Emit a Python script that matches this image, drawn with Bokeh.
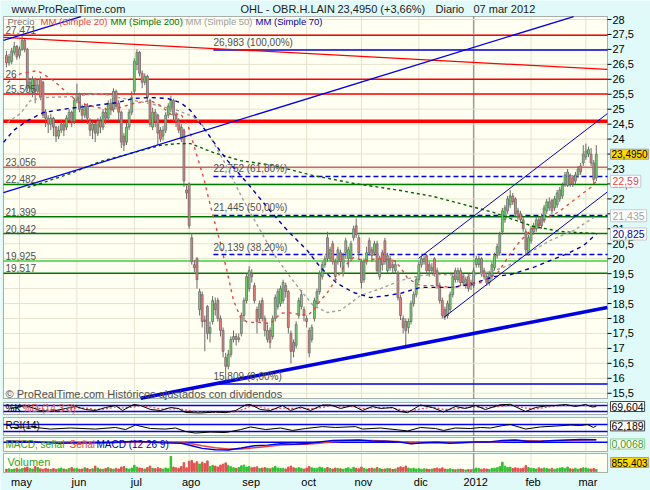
from bokeh.plotting import figure
from bokeh.models import Range1d, Label, BoxAnnotation, ColumnDataSource
from bokeh.core.properties import value
from bokeh.embed import file_html
from bokeh.resources import INLINE

# ---------------- data ----------------
day_idx = list(range(-5, 222))
opens = [26.80, 26.55, 26.60, 26.90, 27.10, 26.80, 27.00, 27.30,
         27.00, 25.70, 25.60, 26.00, 25.60, 26.00, 25.90, 24.90, 24.70, 24.50,
         24.70, 24.40, 24.10, 24.30, 24.50, 24.40, 24.70, 24.90, 24.60, 25.30,
         25.50, 25.00, 24.80, 25.10, 24.60, 24.30, 24.50, 24.20, 24.60, 24.40,
         24.90, 24.70, 25.20, 25.00, 25.60, 25.20, 24.90, 24.10, 23.90, 24.40,
         24.90, 25.60, 26.50, 26.90, 26.20, 25.90, 26.10, 25.30, 24.40, 24.90,
         24.80, 24.30, 24.10, 24.30, 24.80, 25.00, 25.30, 24.80, 24.60, 24.40,
         24.30, 22.30, 22.50, 20.70, 19.80, 20.00, 18.30, 18.80, 17.95, 18.40,
         17.50, 17.90, 18.50, 18.60, 18.00, 17.60, 16.70, 16.40, 16.80, 17.30,
         17.40, 17.30, 17.50, 18.10, 18.60, 19.00, 19.50, 19.10, 18.30, 18.00,
         18.60, 18.00, 17.30, 17.60, 17.40, 18.00, 18.40, 18.50, 18.60, 19.10,
         18.90, 17.50, 17.20, 17.10, 18.10, 18.40, 18.30, 18.00, 17.60, 17.30,
         18.00, 18.50, 18.90, 19.40, 19.80, 20.70, 20.00, 20.50, 19.90, 19.90,
         20.20, 19.50, 20.20, 20.00, 20.00, 20.70, 21.10, 20.70, 19.90, 19.30,
         19.90, 20.60, 20.30, 20.20, 20.50, 19.40, 20.20, 20.60, 19.60, 20.00,
         19.80, 19.60, 19.50, 18.70, 18.00, 17.90, 17.70, 17.90, 18.50, 18.80,
         19.30, 19.80, 19.90, 20.10, 19.80, 19.60, 20.00, 19.60, 19.10, 18.60,
         18.30, 18.10, 18.30, 18.80, 19.60, 19.30, 19.60, 19.40, 19.10, 19.40,
         19.20, 19.10, 19.80, 19.80, 20.00, 19.60, 19.40, 19.20, 19.40, 19.70,
         20.10, 20.20, 20.90, 21.30, 21.60, 21.80, 22.10, 22.00, 21.60, 21.50,
         21.30, 20.90, 20.20, 20.60, 20.90, 21.00, 21.30, 21.40, 21.30, 21.60,
         21.70, 21.95, 21.70, 21.80, 22.00, 22.10, 22.50, 22.45, 22.80, 22.70,
         22.60, 22.80, 23.10, 23.20, 23.40, 23.50, 23.50, 23.20, 22.70]
closes = [26.55, 26.75, 26.95, 27.10, 26.75, 27.00, 27.30, 27.00,
          25.70, 25.90, 26.00, 25.60, 25.80, 25.40, 24.80, 24.70, 24.50, 24.70,
          24.40, 24.10, 24.30, 24.50, 24.30, 24.70, 24.90, 24.60, 25.30, 25.50,
          25.00, 24.80, 25.10, 24.70, 24.30, 24.50, 24.20, 24.60, 24.40, 24.90,
          24.70, 25.20, 25.00, 25.60, 25.10, 24.90, 23.90, 23.80, 24.40, 24.90,
          25.40, 26.60, 26.90, 26.20, 25.90, 26.10, 25.40, 24.50, 24.90, 24.60,
          24.20, 24.00, 24.30, 24.80, 25.10, 25.30, 24.80, 24.60, 24.30, 24.00,
          22.60, 22.20, 21.10, 19.90, 19.70, 19.30, 18.90, 17.90, 17.90, 17.50,
          17.70, 18.60, 18.30, 18.00, 17.60, 16.90, 16.40, 16.80, 17.30, 17.40,
          17.30, 17.35, 18.10, 18.60, 19.40, 19.60, 19.40, 18.60, 17.90, 18.50,
          18.00, 17.60, 17.60, 17.20, 18.00, 18.70, 18.90, 19.00, 19.20, 18.90,
          17.70, 16.90, 16.90, 17.80, 18.60, 18.80, 18.10, 17.90, 16.85, 17.70,
          18.60, 18.90, 19.50, 19.80, 20.00, 20.00, 20.30, 19.90, 19.40, 20.30,
          19.90, 20.10, 20.60, 20.30, 20.50, 21.00, 20.80, 20.20, 19.20, 19.90,
          20.20, 20.20, 20.10, 20.50, 19.60, 20.00, 19.80, 19.90, 20.10, 19.70,
          19.70, 19.80, 18.70, 18.10, 17.70, 17.60, 17.90, 18.50, 18.80, 19.30,
          19.80, 20.00, 20.00, 19.60, 19.60, 19.70, 19.50, 19.10, 18.60, 18.10,
          18.05, 18.50, 18.80, 19.40, 19.30, 19.60, 19.20, 19.20, 19.30, 19.00,
          19.10, 19.60, 20.00, 20.00, 19.50, 19.40, 19.20, 19.50, 19.80, 20.10,
          20.40, 20.80, 21.60, 21.70, 22.00, 22.10, 21.90, 21.50, 21.40, 21.30,
          21.00, 20.30, 20.70, 21.00, 21.10, 21.30, 21.10, 21.10, 21.70, 21.90,
          21.90, 21.60, 22.00, 22.20, 22.30, 22.45, 22.80, 22.90, 22.50, 22.50,
          22.80, 23.00, 22.90, 23.50, 23.60, 23.65, 23.20, 22.65, 23.495]
highs = [26.95, 26.85, 27.05, 27.25, 27.15, 27.10, 27.47, 27.35,
         27.05, 26.05, 26.10, 26.05, 26.00, 26.10, 25.95, 25.00, 24.80, 24.85,
         24.75, 24.45, 24.45, 24.65, 24.60, 24.80, 25.00, 24.95, 25.35, 25.85,
         25.55, 25.15, 25.20, 25.20, 24.70, 24.60, 24.55, 24.70, 24.75, 25.00,
         25.05, 25.30, 25.35, 25.70, 25.65, 25.30, 24.95, 24.20, 24.55, 25.00,
         25.60, 26.70, 27.00, 26.95, 26.30, 26.20, 26.15, 25.35, 25.05, 25.00,
         24.85, 24.40, 24.45, 24.90, 25.20, 25.45, 25.35, 24.90, 24.70, 24.50,
         24.35, 22.45, 22.55, 20.85, 19.95, 20.05, 19.00, 18.90, 18.10, 18.45,
         17.90, 18.75, 18.70, 18.70, 18.10, 17.70, 16.85, 16.95, 17.40, 17.60,
         17.50, 17.50, 18.20, 18.70, 19.50, 19.75, 19.65, 19.20, 18.40, 18.60,
         18.70, 18.10, 17.80, 17.70, 18.10, 18.80, 19.00, 19.10, 19.30, 19.20,
         18.95, 17.60, 17.30, 17.90, 18.70, 18.95, 18.40, 18.10, 17.70, 17.80,
         18.70, 19.00, 19.60, 19.90, 20.10, 20.90, 20.40, 20.60, 20.00, 20.40,
         20.30, 20.20, 20.70, 20.40, 20.60, 21.10, 21.35, 20.80, 20.00, 20.00,
         20.40, 20.70, 20.40, 20.60, 20.60, 20.10, 20.30, 20.70, 20.20, 20.10,
         19.90, 19.95, 19.60, 18.80, 18.10, 18.00, 18.00, 18.60, 18.90, 19.40,
         19.90, 20.10, 20.10, 20.15, 19.90, 19.85, 20.05, 19.70, 19.20, 18.70,
         18.40, 18.60, 18.90, 19.50, 19.70, 19.70, 19.70, 19.50, 19.40, 19.50,
         19.30, 19.70, 20.10, 20.10, 20.05, 19.70, 19.50, 19.60, 19.90, 20.20,
         20.50, 20.90, 21.70, 21.80, 22.10, 22.30, 22.20, 22.05, 21.70, 21.60,
         21.40, 21.00, 20.80, 21.10, 21.20, 21.40, 21.40, 21.50, 21.80, 22.00,
         22.05, 22.00, 22.10, 22.30, 22.40, 22.55, 22.90, 23.00, 22.85, 22.80,
         22.90, 23.10, 23.20, 23.80, 23.85, 23.75, 23.70, 23.30, 23.80]
lows = [26.40, 26.45, 26.50, 26.80, 26.65, 26.70, 26.95, 26.90,
        25.60, 25.50, 25.40, 25.20, 25.50, 25.30, 24.70, 24.40, 24.20, 24.30,
        24.10, 23.90, 24.00, 24.20, 24.10, 24.30, 24.60, 24.40, 24.50, 25.20,
        24.90, 24.60, 24.70, 24.50, 24.10, 24.00, 23.90, 24.10, 24.20, 24.30,
        24.50, 24.60, 24.80, 24.90, 25.00, 24.60, 23.70, 23.60, 23.80, 24.30,
        24.80, 25.50, 26.30, 26.10, 25.70, 25.80, 25.30, 24.40, 24.30, 24.40,
        23.80, 23.90, 23.95, 24.20, 24.70, 24.90, 24.60, 24.40, 24.20, 23.90,
        22.40, 22.00, 21.00, 19.80, 19.55, 19.00, 18.10, 17.70, 16.90, 17.30,
        17.20, 17.80, 18.10, 17.90, 17.40, 16.70, 15.81, 16.30, 16.70, 17.20,
        17.10, 17.20, 17.40, 17.90, 18.50, 18.90, 19.20, 18.50, 17.50, 17.90,
        17.90, 17.40, 17.20, 17.00, 17.30, 17.90, 18.30, 18.40, 18.50, 18.70,
        17.50, 16.50, 16.70, 17.00, 18.00, 18.30, 17.90, 17.70, 16.70, 17.20,
        17.90, 18.40, 18.80, 19.30, 19.70, 19.90, 19.90, 19.80, 19.20, 19.80,
        19.70, 19.40, 20.00, 19.70, 19.90, 20.60, 20.70, 20.00, 19.00, 19.20,
        19.80, 20.10, 19.90, 20.10, 19.50, 19.30, 19.60, 19.80, 19.50, 19.60,
        19.50, 19.50, 18.60, 17.95, 17.50, 17.10, 17.50, 17.80, 18.40, 18.70,
        19.20, 19.70, 19.80, 19.50, 19.40, 19.50, 19.40, 19.00, 18.50, 18.00,
        17.95, 18.00, 18.20, 18.70, 19.20, 19.20, 19.10, 19.10, 19.00, 18.90,
        18.95, 19.00, 19.70, 19.70, 19.40, 19.30, 19.10, 19.10, 19.30, 19.60,
        20.00, 20.10, 20.80, 21.20, 21.50, 21.70, 21.80, 21.40, 21.30, 21.20,
        20.90, 20.10, 20.10, 20.50, 20.80, 20.90, 21.00, 21.00, 21.20, 21.50,
        21.60, 21.50, 21.60, 21.70, 21.90, 22.00, 22.40, 22.40, 22.40, 22.40,
        22.50, 22.70, 22.80, 23.10, 23.30, 23.40, 23.10, 22.50, 22.60]
volumes_m = [0.9, 1.1, 0.8, 1.0, 1.3, 0.9, 1.2, 1.5, 1.8, 1.2, 1.0, 2.0, 1.6, 1.1, 0.9, 1.3,
             1.0, 0.8, 1.2, 0.9, 1.1, 1.4, 1.0, 0.8, 1.2, 1.6, 1.1,
             1.3, 0.9, 1.0, 1.5, 1.2, 0.8, 1.1, 2.2, 1.4, 1.0, 0.9, 1.2, 1.6, 1.1, 0.9, 1.3,
             1.0, 1.8, 2.0, 1.2, 1.0, 1.4,
             2.5, 1.8, 1.4, 1.2, 1.0, 1.6, 2.2, 1.3, 1.1, 1.5, 1.2, 1.0, 1.4, 1.1, 6.1, 1.8,
             1.5, 1.3, 2.0, 3.6, 1.5,
             4.2, 4.5, 3.4, 4.0, 3.0, 3.8, 3.2, 4.3, 2.0, 2.5, 2.2, 1.8, 2.6, 3.0, 3.5, 2.4,
             1.9, 1.5, 1.3, 1.6, 2.3, 2.6, 1.8,
             2.0, 1.5, 1.7, 1.9, 1.2, 1.4, 1.6, 1.3, 1.1, 1.5, 2.1, 1.4, 1.2, 1.3, 1.0, 1.8,
             2.2, 1.5, 1.3, 1.6, 1.2, 1.0,
             1.4, 2.0, 1.5, 1.2, 1.3, 1.8, 1.5, 1.1, 1.6, 1.2, 1.0, 1.4, 1.3, 1.1, 0.9, 1.2,
             1.5, 1.0, 1.7, 1.3, 1.1,
             1.8, 1.3, 1.0, 1.2, 1.4, 1.1, 1.6, 1.2, 0.9, 1.0, 1.3, 1.1, 0.8, 1.0, 1.5, 1.9,
             1.6, 2.2, 1.4, 1.1, 1.3, 1.0,
             1.2, 0.9, 1.1, 1.0, 0.8, 1.0, 1.2, 1.4, 1.1, 1.5, 1.0, 0.9, 1.1, 0.8, 0.7, 0.9,
             1.0, 0.8, 0.6, 0.8, 0.7,
             1.0, 1.4, 1.2, 0.9, 1.1, 1.0, 0.8, 1.2, 1.3, 1.5, 2.0, 3.8, 2.2, 1.6, 1.8, 1.2,
             1.5, 1.3, 1.1, 1.4, 2.4, 1.6,
             1.3, 1.2, 1.0, 1.5, 1.1, 1.4, 1.2, 1.0, 1.3, 0.9, 1.1, 1.4, 1.6, 1.2, 1.8, 1.1,
             1.0, 1.3, 0.9, 1.2, 1.5,
             1.4, 1.1, 1.0, 1.2, 0.855403]

month_idx = [0, 22, 44, 65, 88, 110, 131, 153, 174, 196, 217]
month_lbl = ["may", "jun", "jul", "ago", "sep", "oct", "nov", "dic", "2012", "feb", "mar"]
year_start = 174
price_ticks = [15.5, 16, 16.5, 17, 17.5, 18, 18.5, 19, 19.5, 20, 20.5, 21, 21.5, 22,
               22.5, 23, 23.5, 24, 24.5, 25, 25.5, 26, 26.5, 27, 27.5, 28]
price_tick_lbl = ["15,5", "16", "16,5", "17", "17,5", "18", "18,5", "19", "19,5", "20",
                  "20,5", "21", "21,5", "22", "22,5", "23", "23,5", "24", "24,5", "25",
                  "25,5", "26", "26,5", "27", "27,5", "28"]

ma20_i = [-4.6, 0.4, 6.9, 13.0, 18.4, 23.4, 34.9, 38.7, 43.7, 50.2, 54.0, 58.6, 61.7, 64.8,
          68.2, 70.5, 72.0, 74.3, 77.0, 79.7, 82.0, 84.7, 87.4, 92.3, 96.2, 100.0, 102.7,
          110.3, 112.6, 115.3, 118.0, 121.8, 124.1, 128.0, 131.8, 138.3, 143.3, 146.0, 148.7,
          153.6, 158.6, 166.3, 171.6, 176.6, 183.1, 188.1, 192.0, 195.8, 200.8, 207.3, 213.8,
          218.8, 221.0]
ma20_v = [25.89, 26.19, 26.29, 25.96, 25.53, 25.19, 24.96, 25.06, 25.19, 25.29, 25.12, 24.79,
          24.86, 24.39, 23.38, 22.72, 22.18, 21.38, 20.51, 19.51, 18.60, 18.03, 17.87, 17.87,
          17.83, 18.17, 18.20, 18.10, 18.27, 18.60, 18.87, 19.37, 19.71, 20.04, 19.94, 20.01,
          19.94, 19.71, 19.34, 19.10, 19.10, 19.04, 19.17, 19.20, 19.51, 20.17, 20.61, 20.94,
          21.28, 21.61, 22.05, 22.38, 22.59]
ma50_i = [-4.6, 0.4, 4.2, 9.2, 19.5, 31.0, 36.0, 42.5, 51.3, 60.5, 66.3, 69.3, 73.2, 78.2,
          85.8, 92.3, 97.3, 102.7, 107.7, 112.6, 118.0, 123.0, 130.7, 138.3, 146.0, 153.6,
          161.3, 171.6, 177.8, 184.3, 188.1, 194.6, 203.4, 212.3, 221.0]
ma50_v = [24.56, 24.86, 25.29, 25.39, 25.42, 25.53, 25.42, 25.32, 25.16, 24.96, 24.76, 24.56,
          24.06, 23.28, 21.95, 20.94, 20.17, 19.51, 18.94, 18.43, 18.20, 18.27, 18.77, 19.00,
          19.27, 19.44, 19.47, 19.44, 19.51, 19.67, 19.81, 20.17, 20.61, 20.94, 21.435]
ma70_i = [-6.1, -2.3, 3.1, 9.2, 18.4, 28.4, 37.5, 43.7, 50.2, 56.7, 61.7, 65.5, 69.3, 73.2,
          75.9, 79.7, 87.4, 95.0, 102.7, 110.3, 115.3, 121.8, 128.0, 134.5, 141.0, 146.0,
          153.6, 166.3, 173.9, 181.6, 188.1, 196.9, 203.4, 210.0, 216.1, 221.0]
ma70_v = [23.89, 24.29, 24.62, 24.89, 25.02, 25.12, 25.22, 25.36, 25.39, 25.36, 25.22, 24.96,
          24.52, 24.05, 23.72, 23.28, 22.52, 21.71, 20.94, 20.27, 19.71, 19.17, 18.87, 18.70,
          18.77, 18.84, 19.04, 19.04, 19.17, 19.40, 19.47, 19.71, 19.94, 20.17, 20.44, 20.825]
ma200_i = [3.1, 9.2, 19.5, 31.0, 43.7, 54.0, 60.5, 65.5, 69.3, 74.3, 84.7, 97.3, 112.6, 128.0,
           146.0, 158.6, 171.6, 181.6, 188.1, 196.9, 207.3, 221.0]
ma200_v = [22.38, 22.55, 22.85, 23.25, 23.55, 23.79, 23.85, 23.85, 23.72, 23.55, 23.28, 23.12,
           22.78, 22.52, 22.28, 22.08, 21.78, 21.55, 21.34, 21.08, 20.91, 20.84]

# drawn trendlines (start / end points)
trend_blue_i = [-6.13, 212.3]
trend_blue_v = [22.21, 28.10]
trend_blue2_i = [-6.13, 23.5]
trend_blue2_v = [27.30, 28.10]
trend_thick_i = [46.4, 225.2]
trend_thick_v = [15.33, 18.37]
chan_up_i = [152.9, 225.2]
chan_up_v = [20.01, 24.85]
chan_low_i = [162.5, 225.2]
chan_low_v = [18.03, 22.23]
trend_red_i = [-6.13, 225.2]
trend_red_v = [27.40, 26.33]

red_levels = [27.471, 26.0, 25.505]
thick_red_level = 24.6
pink_level = 23.056
green_levels = [22.482, 21.399, 20.842, 19.517]
light_green_level = 19.925
level_labels = [(27.471, "27,471"), (26.0, "26"), (25.505, "25,505"), (23.056, "23,056"),
                (22.482, "22,482"), (21.399, "21,399"), (20.842, "20,842"),
                (19.925, "19,925"), (19.517, "19,517")]
fib_start = 74.3
fib_solid = [26.983, 15.809]
fib_dashed = [22.752, 21.445, 20.139]
fib_labels = [(26.983, "26,983 (100,00%)"), (22.752, "22,752 (61,80%)"),
              (21.445, "21,445 (50,00%)"), (20.139, "20,139 (38,20%)"),
              (15.809, "15,809 (0,00%)")]

stoch_i = [-3.4, 2.3, 8.0, 11.9, 17.6, 21.5, 25.3, 29.1, 33.0, 36.8, 39.5, 43.7, 46.4, 50.2,
           54.0, 57.9, 60.9, 63.6, 69.3, 75.1, 78.9, 82.8, 86.6, 88.5, 92.3, 96.2, 100.8,
           103.8, 107.7, 111.5, 116.1, 119.2, 123.0, 127.6, 131.4, 135.2, 138.3, 142.9, 146.0,
           148.7, 153.6, 158.2, 162.5, 167.0, 170.9, 174.7, 178.5, 184.3, 188.1, 193.9, 197.7,
           201.5, 205.4, 209.2, 213.0, 216.9, 219.5, 221.0]
stoch_k = [50, 80, 30, 20, 50, 70, 40, 30, 60, 80, 30, 90, 80, 40, 30, 60, 50, 10, 5, 15, 8,
           30, 85, 90, 40, 30, 80, 30, 65, 30, 85, 85, 50, 80, 30, 70, 50, 60, 20, 8, 85, 60,
           15, 70, 50, 80, 40, 88, 92, 20, 60, 75, 80, 90, 70, 90, 65, 69.604]
stoch_d = [55, 65, 50, 30, 35, 55, 55, 40, 45, 65, 55, 65, 80, 65, 45, 45, 50, 35, 15, 10,
           10, 18, 50, 75, 65, 40, 55, 50, 55, 45, 60, 80, 65, 70, 50, 55, 60, 55, 40, 20, 45,
           65, 40, 45, 60, 65, 60, 70, 85, 55, 45, 60, 75, 82, 80, 80, 75, 72]
rsi_i = [-3.4, 4.2, 11.9, 19.5, 29.1, 36.8, 40.6, 44.4, 50.2, 55.9, 59.8, 63.6, 67.4, 73.2,
         78.9, 84.7, 88.5, 94.3, 100.0, 104.6, 109.6, 116.1, 121.1, 128.7, 131.4, 138.3, 145.2,
         148.7, 153.6, 159.4, 162.5, 167.0, 172.8, 176.6, 180.5, 185.1, 188.1, 193.9, 199.6,
         205.4, 211.1, 214.9, 217.6, 219.9, 221.0]
rsi_v = [53, 56, 44, 50, 44, 53, 41, 67, 47, 44, 50, 30, 21, 27, 24, 41, 56, 41, 50, 36, 47,
         58, 53, 58, 44, 50, 39, 33, 53, 47, 36, 50, 47, 53, 50, 64, 70, 44, 56, 61, 67, 64,
         70, 53, 62.189]
macd_i = [-5, 5, 15, 25, 35, 45, 55, 62, 66, 70, 75, 80, 85, 90, 95, 100, 105, 110, 115, 120,
          125, 130, 135, 140, 145, 150, 155, 160, 165, 170, 175, 180, 185, 190, 195, 200, 205,
          210, 215, 221]
macd_v = [0.15, 0.05, -0.15, -0.10, -0.05, 0.15, -0.10, -0.15, -0.55, -0.95, -1.15, -1.20,
          -0.90, -0.55, -0.45, -0.25, -0.30, -0.20, 0.05, 0.25, 0.30, 0.35, 0.20, 0.15, 0.05,
          -0.25, -0.10, 0.00, -0.15, -0.05, 0.05, 0.05, 0.25, 0.35, 0.10, 0.15, 0.25, 0.35,
          0.40, 0.37]
macd_sig = [0.18, 0.12, -0.05, -0.12, -0.08, 0.02, 0.00, -0.10, -0.25, -0.55, -0.85, -1.05,
            -1.05, -0.85, -0.65, -0.45, -0.35, -0.30, -0.15, 0.05, 0.20, 0.28, 0.27, 0.20, 0.12,
            -0.05, -0.10, -0.05, -0.08, -0.08, -0.02, 0.02, 0.10, 0.25, 0.22, 0.17, 0.20, 0.28,
            0.35, 0.36]

# ---------------- layout (screen pixel -> data unit helpers) ----------------
W, H = 650, 490
FONT = "Liberation Sans"
BG = "#E0FAFA"
PANEL = "#FFFFF2"
GRID = "#E6E2CE"
UP = "#70DC70"
DOWN = "#F08080"


def ix(px):            # screen x -> day index
    return (px - 19) / 2.61


conv = {
    "default": lambda py: 28 - (py - 19) / 29.9,     # price
    "stoch": lambda py: (413 - py) * 10,
    "rsi": lambda py: (436.25 - py) / 0.175,
    "macd": lambda py: (441.7 - py) / 6.5,
    "vol": lambda py: (471 - py) * 0.40625,
}
panel_px = {"default": (16, 398), "stoch": (402, 414), "rsi": (417, 435),
            "macd": (437, 451), "vol": (453, 472)}
X0, X1 = ix(3), ix(607)

p = figure(width=W, height=H, title=None, x_axis_location=None, y_axis_location=None,
           x_range=Range1d(ix(0), ix(W)),
           y_range=Range1d(conv["default"](H), conv["default"](0)),
           output_backend="svg", toolbar_location=None,
           min_border=0, min_border_left=0, min_border_right=0,
           min_border_top=0, min_border_bottom=0,
           background_fill_color=BG, border_fill_color=BG, outline_line_color=None)
p.grid.visible = False
for name in ["stoch", "rsi", "macd", "vol"]:
    p.extra_y_ranges[name] = Range1d(conv[name](H), conv[name](0))


def yr(name):
    return {} if name == "default" else {"y_range_name": name}


def lab(text, x, y, color="black", size="11px", xu="screen", yu="data",
        align="left", baseline="middle", rng="default", **kw):
    p.add_layout(Label(x=x, y=y, x_units=xu, y_units=yu, text=text, text_color=color,
                       text_font=FONT, text_font_size=size, text_align=align,
                       text_baseline=baseline, **yr(rng), **kw))


# panels: backgrounds, month grid, 2012 line, borders
for name, (ptop, pbot) in panel_px.items():
    top, bot = conv[name](ptop), conv[name](pbot)
    p.add_layout(BoxAnnotation(left=X0, right=X1, top=top, bottom=bot, fill_color=PANEL,
                               fill_alpha=1, line_color=None, level="image", **yr(name)))
    p.segment(x0=month_idx, x1=month_idx, y0=bot, y1=top, line_color=GRID, line_width=1,
              level="underlay", **yr(name))
    p.segment(x0=[year_start], x1=[year_start], y0=bot, y1=top, line_color="#9A9A9A",
              line_width=1.5, level="underlay", **yr(name))
    p.add_layout(BoxAnnotation(left=X0, right=X1, top=top, bottom=bot, fill_alpha=0,
                               line_color="black", line_width=1, level="overlay", **yr(name)))

# price grid, right axis ticks and labels
p.segment(x0=X0, x1=X1, y0=price_ticks, y1=price_ticks, line_color=GRID, line_width=1,
          level="underlay")
p.segment(x0=X1, x1=ix(611), y0=price_ticks, y1=price_ticks, line_color="black", line_width=1)
p.text(x=ix(612), y=price_ticks, text=price_tick_lbl, text_font=value(FONT),
       text_font_size=value("11px"), text_baseline="middle", text_align="left",
       text_color="black")

# horizontal levels
p.segment(x0=X0, x1=X1, y0=red_levels, y1=red_levels, line_color="#FF0000", line_width=1.5)
p.segment(x0=X0, x1=X1, y0=[thick_red_level], y1=[thick_red_level], line_color="#FF0000",
          line_width=3.5)
p.segment(x0=X0, x1=X1, y0=[pink_level], y1=[pink_level], line_color="#D26464", line_width=1.5)
p.segment(x0=X0, x1=X1, y0=green_levels, y1=green_levels, line_color="#007A00", line_width=1.5)
p.segment(x0=X0, x1=X1, y0=[light_green_level], y1=[light_green_level], line_color="#40D040",
          line_width=1.5)
p.segment(x0=fib_start, x1=X1, y0=fib_solid, y1=fib_solid, line_color="#0000E0", line_width=1.5)
p.segment(x0=fib_start, x1=X1, y0=fib_dashed, y1=fib_dashed, line_color="#0000E0",
          line_width=1.5, line_dash="5 3")

# candles
src = ColumnDataSource(dict(
    i=day_idx, o=opens, c=closes, h=highs, l=lows,
    top=[max(a, b) for a, b in zip(opens, closes)],
    bot=[min(a, b) for a, b in zip(opens, closes)],
    col=[UP if c >= o else DOWN for o, c in zip(opens, closes)],
))
p.segment(x0="i", y0="h", x1="i", y1="l", source=src, line_color="#6A6A6A", line_width=1)
p.vbar(x="i", width=0.72, top="top", bottom="bot", source=src,
       fill_color="col", line_color="#6A6A6A", line_width=0.8)

# moving averages
p.line(ma200_i, ma200_v, line_color="#006400", line_width=1.4, line_dash="3 3")
p.line(ma50_i, ma50_v, line_color="#A0A0A0", line_width=1.4, line_dash="3 3")
p.line(ma70_i, ma70_v, line_color="#0000B0", line_width=1.4, line_dash="4 4")
p.line(ma20_i, ma20_v, line_color="#E04848", line_width=1.4, line_dash="3 4")

# trendlines
p.line(trend_red_i, trend_red_v, line_color="#FF0000", line_width=1.3)
p.line(trend_blue_i, trend_blue_v, line_color="#0000E0", line_width=1.3)
p.line(trend_blue2_i, trend_blue2_v, line_color="#0000E0", line_width=1.3)
p.line(trend_thick_i, trend_thick_v, line_color="#0000E0", line_width=3.5)
p.line(chan_up_i, chan_up_v, line_color="#0000C0", line_width=1)
p.line(chan_low_i, chan_low_v, line_color="#0000C0", line_width=1)

# texts in the price panel
for lv, t in level_labels:
    lab(t, 5, lv, color="#505050", size="10px", baseline="bottom", y_offset=1)
for lv, t in fib_labels:
    lab(t, fib_start, lv, color="#505050", size="10px", xu="data", baseline="bottom",
        y_offset=2)
ly = conv["default"](21)
lab("Precio", 7, ly, color="#707070", size="9.5px")
lab("MM (Simple 20)", 40, ly, color="#E04848", size="9.5px")
lab("MM (Simple 200)", 110, ly, color="#007000", size="9.5px")
lab("MM (Simple 50)", 185, ly, color="#A0A0A0", size="9.5px")
lab("MM (Simple 70)", 255, ly, color="#0000A0", size="9.5px")
lab("\u00a9 ProRealTime.com  Hist\u00f3ricos ajustados con dividendos", 5,
    conv["default"](393), color="#505050", size="11px")

# header
hy = conv["default"](8)
lab("www.ProRealTime.com", 11, hy, color="#202020", size="11px")
lab("OHL - OBR.H.LAIN", 240, hy, color="#202020", size="11px")
lab("23,4950 (+3,66%)", 337, hy, color="#202020", size="11px")
lab("Diario", 435, hy, color="#202020", size="11px")
lab("07 mar 2012", 473, hy, color="#202020", size="11px")

# value tags
lab("23,4950", 610, closes[-1], size="10px", background_fill_color="#FFD800",
    border_line_color="#A0A0A0", padding=1)
lab("22,59", 610, ma20_v[-1], color="#E04848", size="10.5px", background_fill_color="white",
    border_line_color="#C8C8C8", padding=2)
lab("21,435", 610, ma50_v[-1], color="#A0A0A0", size="10.5px", background_fill_color="white",
    border_line_color="#C8C8C8", padding=2)
lab("20,825", 610, ma70_v[-1], color="#0000A0", size="10.5px", background_fill_color="white",
    border_line_color="#C8C8C8", padding=2)

# stochastic
p.segment(x0=X0, x1=X1, y0=[80, 20], y1=[80, 20], line_color="#0000FF", line_width=1.5,
          y_range_name="stoch")
p.line(stoch_i, stoch_d, line_color="#E04848", line_width=1.2, line_dash="2 2",
       y_range_name="stoch")
p.line(stoch_i, stoch_k, line_color="black", line_width=1, y_range_name="stoch")
lab("%K", 5, conv["stoch"](407.5), size="10px", rng="stoch")
lab("%D (14 3 3)", 22, conv["stoch"](407.5), color="#E04848", size="10px", rng="stoch")
lab("69,604", 610, stoch_k[-1], size="10.5px", background_fill_color="white",
    border_line_color="#404040", padding=1, rng="stoch")

# RSI
p.segment(x0=X0, x1=X1, y0=[70, 30], y1=[70, 30], line_color="#0000FF", line_width=1.5,
          y_range_name="rsi")
p.line(rsi_i, rsi_v, line_color="black", line_width=1, y_range_name="rsi")
lab("RSI(14)", 5, conv["rsi"](425), size="10px", rng="rsi")
lab("62,189", 610, rsi_v[-1], size="10.5px", background_fill_color="white",
    border_line_color="#404040", padding=1, rng="rsi")

# MACD
p.segment(x0=X0, x1=X1, y0=[0], y1=[0], line_color="#0000FF", line_width=1.5,
          y_range_name="macd")
p.line(macd_i, macd_sig, line_color="#E04848", line_width=1.5, y_range_name="macd")
p.line(macd_i, macd_v, line_color="#0000E0", line_width=1.5, y_range_name="macd")
my = conv["macd"](443.5)
lab("MACD, se\u00f1al", 5, my, color="#30A030", size="10px", rng="macd")
lab("Se\u00f1al", 69, my, color="#E04848", size="10px", rng="macd")
lab("MACD (12 26 9)", 96, my, color="#0000C0", size="10px", rng="macd")
lab("0,0068", 610, my, color="#30A030", size="10.5px", background_fill_color="white",
    border_line_color="#90D090", padding=1, rng="macd")

# volume
vsrc = ColumnDataSource(dict(
    i=day_idx, v=volumes_m,
    col=["#30C030" if c >= o else "#E05050" for o, c in zip(opens, closes)],
))
p.vbar(x="i", width=0.6, top="v", bottom=0, source=vsrc, fill_color="col", line_color="col",
       y_range_name="vol")
lab("Volumen", 7, conv["vol"](461.5), color="#30A030", size="11px", rng="vol")
lab("855.403", 610, conv["vol"](462), size="10px", background_fill_color="#FFD800",
    border_line_color="#A0A0A0", padding=1, rng="vol")

# month labels under the volume panel
p.text(x=month_idx, y=conv["vol"](481), text=month_lbl, text_font=value(FONT),
       text_font_size=value("11px"), text_baseline="middle", text_align="center",
       text_color="black", y_range_name="vol", x_offset=2)

open("out.html", "w").write(file_html(p, INLINE))
